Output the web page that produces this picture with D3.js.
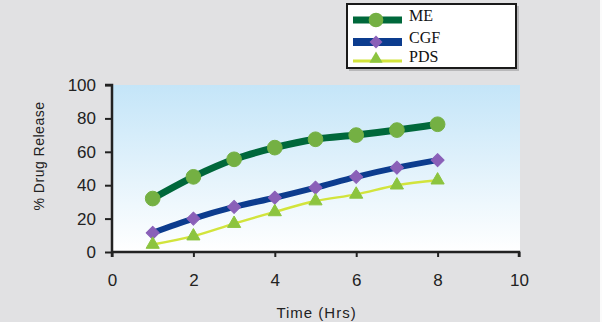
<!DOCTYPE html>
<html>
<head>
<meta charset="utf-8">
<script src="https://cdn.jsdelivr.net/npm/d3@7"></script>
<style>
  body { margin: 0; background: #e1e1e3; }
  svg { display: block; }
</style>
</head>
<body>
<div id="chart"></div>
<script>
// data
var hours = [1, 2, 3, 4, 5, 6, 7, 8];
var meValues = [32, 45, 55.5, 62.5, 67.5, 70, 73, 76.5];
var cgfValues = [11.5, 20, 27, 32.5, 38.5, 45, 50.5, 55];
var pdsValues = [4.5, 9.5, 17, 24, 30.5, 34.5, 40, 43];
var seriesNames = ["ME", "CGF", "PDS"];
var xTicks = [0, 2, 4, 6, 8, 10];
var yTicks = [0, 20, 40, 60, 80, 100];

var svgWidth = 602;
var svgHeight = 322;

var margin = { top: 85, right: 83, bottom: 70, left: 112 };
var width = svgWidth - margin.left - margin.right;
var height = svgHeight - margin.top - margin.bottom;

var svg = d3.select("#chart").append("svg")
    .attr("width", svgWidth).attr("height", svgHeight);

// background
svg.append("rect").attr("width", svgWidth).attr("height", svgHeight).attr("fill", "#e1e1e3");
svg.append("rect").attr("x", 600).attr("width", 2).attr("height", svgHeight).attr("fill", "#fbfbfb");

var defs = svg.append("defs");
var grad = defs.append("linearGradient").attr("id", "plotBg")
    .attr("x1", 0).attr("y1", 0).attr("x2", 0).attr("y2", 1);
grad.append("stop").attr("offset", "0%").attr("stop-color", "#c4e5f8");
grad.append("stop").attr("offset", "100%").attr("stop-color", "#ffffff");

var chartGroup = svg.append("g").attr("transform", `translate(${margin.left}, ${margin.top})`);

chartGroup.append("rect").attr("width", width + 1).attr("height", height)
    .attr("fill", "url(#plotBg)");

var xScale = d3.scaleLinear().domain([0, 10]).range([0, width]);
var yScale = d3.scaleLinear().domain([0, 100]).range([height, 0]);

// axes
var xAxis = d3.axisBottom(xScale).tickValues(xTicks).tickSize(5).tickPadding(17);
var yAxis = d3.axisLeft(yScale).tickValues(yTicks).tickSize(7).tickPadding(9);

var gx = chartGroup.append("g").attr("transform", `translate(0, ${height})`).call(xAxis);
var gy = chartGroup.append("g").call(yAxis);

[gx, gy].forEach(function(g) {
    g.select(".domain").attr("stroke", "#222").attr("stroke-width", 2.5);
    g.selectAll(".tick line").attr("stroke", "#222").attr("stroke-width", 2);
    g.selectAll(".tick text")
        .attr("fill", "#222")
        .attr("font-family", "Liberation Sans, Arial, sans-serif")
        .attr("font-size", "17px");
});
gy.select(".domain").attr("d", `M-7,0H0V${height + 5}`);
gx.select(".domain").attr("d", `M0,0H${width}V5`);

// series
var series = [
    { name: "ME", values: meValues, line: "#00683b", lineWidth: 7, marker: "#74b043", symbol: d3.symbolCircle, size: 170, rot: 0 },
    { name: "CGF", values: cgfValues, line: "#0c3c8e", lineWidth: 6, marker: "#8a60b8", symbol: d3.symbolSquare, size: 85, rot: 45 },
    { name: "PDS", values: pdsValues, line: "#d2e43c", lineWidth: 2.5, marker: "#8cc43f", symbol: d3.symbolTriangle, size: 75, rot: 0 }
];

var line = d3.line()
    .x(function(d, i) { return xScale(hours[i]); })
    .y(function(d) { return yScale(d); })
    .curve(d3.curveMonotoneX);

series.forEach(function(s) {
    chartGroup.append("path")
        .attr("d", line(s.values))
        .attr("fill", "none")
        .attr("stroke", s.line)
        .attr("stroke-width", s.lineWidth)
        .attr("stroke-linejoin", "round");

    chartGroup.selectAll(null).data(s.values).enter().append("path")
        .attr("d", d3.symbol().type(s.symbol).size(s.size))
        .attr("transform", function(d, i) { return `translate(${xScale(hours[i])}, ${yScale(d)}) rotate(${s.rot})`; })
        .attr("fill", s.marker)
        .attr("stroke", s.marker)
        .attr("stroke-width", 1)
        .attr("stroke-linejoin", "round");
});

// axis titles
svg.append("text")
    .attr("transform", `translate(${margin.left + width / 2 + 1}, 318)`)
    .attr("text-anchor", "middle")
    .attr("font-family", "Liberation Sans, Arial, sans-serif")
    .attr("font-size", "15px")
    .attr("letter-spacing", "1px")
    .attr("fill", "#222")
    .text("Time (Hrs)");

svg.append("text")
    .attr("transform", "translate(44, 156) rotate(-90)")
    .attr("text-anchor", "middle")
    .attr("font-family", "Liberation Sans, Arial, sans-serif")
    .attr("font-size", "14px")
    .attr("letter-spacing", "0.5px")
    .attr("fill", "#222")
    .text("% Drug Release");

// legend
var legend = svg.append("g");
legend.append("rect").attr("x", 349).attr("y", 6).attr("width", 170).attr("height", 65).attr("fill", "#b8b8ba");
legend.append("rect").attr("x", 347).attr("y", 4).attr("width", 169).attr("height", 64)
    .attr("fill", "#ffffff").attr("stroke", "#1a1a1a").attr("stroke-width", 2);

var legendY = [20, 42, 61];
var legendLineWidth = [7, 8, 3];
series.forEach(function(s, i) {
    legend.append("line")
        .attr("x1", 353).attr("x2", 402)
        .attr("y1", legendY[i]).attr("y2", legendY[i])
        .attr("stroke", s.line).attr("stroke-width", legendLineWidth[i]);
    legend.append("path")
        .attr("d", d3.symbol().type(s.symbol).size(s.size)())
        .attr("transform", `translate(376, ${legendY[i] - (i === 2 ? 2 : 0)}) rotate(${s.rot})`)
        .attr("fill", s.marker);
    legend.append("text")
        .attr("x", 409).attr("y", legendY[i] + 1)
        .attr("font-family", "Liberation Serif, Times New Roman, serif")
        .attr("font-size", "16px")
        .attr("fill", "#111")
        .text(seriesNames[i]);
});
</script>
</body>
</html>
